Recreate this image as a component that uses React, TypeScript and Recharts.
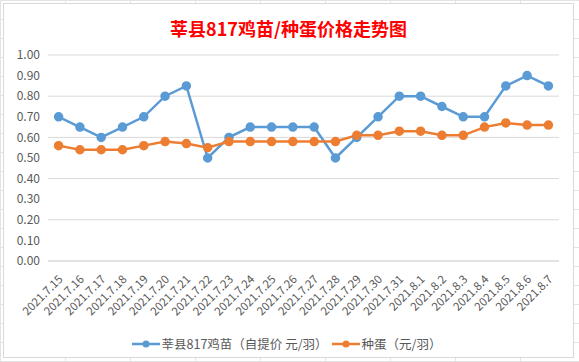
import React from 'react';
import { CartesianGrid, Legend, Line, LineChart, XAxis, YAxis } from 'recharts';

const dates = [
  '2021.7.15', '2021.7.16', '2021.7.17', '2021.7.18', '2021.7.19', '2021.7.20',
  '2021.7.21', '2021.7.22', '2021.7.23', '2021.7.24', '2021.7.25', '2021.7.26',
  '2021.7.27', '2021.7.28', '2021.7.29', '2021.7.30', '2021.7.31', '2021.8.1',
  '2021.8.2', '2021.8.3', '2021.8.4', '2021.8.5', '2021.8.6', '2021.8.7',
];

const chickPrice = [
  0.7, 0.65, 0.6, 0.65, 0.7, 0.8, 0.85, 0.5, 0.6, 0.65, 0.65, 0.65,
  0.65, 0.5, 0.6, 0.7, 0.8, 0.8, 0.75, 0.7, 0.7, 0.85, 0.9, 0.85,
];

const eggPrice = [
  0.56, 0.54, 0.54, 0.54, 0.56, 0.58, 0.57, 0.55, 0.58, 0.58, 0.58, 0.58,
  0.58, 0.58, 0.61, 0.61, 0.63, 0.63, 0.61, 0.61, 0.65, 0.67, 0.66, 0.66,
];

const yTicks = [0, 0.1, 0.2, 0.3, 0.4, 0.5, 0.6, 0.7, 0.8, 0.9, 1.0];

const chickName = '莘县817鸡苗（自提价 元/羽）';
const eggName = '种蛋（元/羽）';

const BLUE = '#5B9BD5';
const ORANGE = '#ED7D31';
const FONT = '"Noto Sans CJK SC", "Noto Sans", sans-serif';

const data = dates.map((d, i) => ({ date: d, chick: chickPrice[i], egg: eggPrice[i] }));

const DateTick = (props: any) => {
  const { x, y, payload } = props;
  const tx = x + 5;
  const ty = y + 11;
  return (
    <text
      x={tx}
      y={ty}
      transform={`rotate(-45, ${tx}, ${ty})`}
      textAnchor="end"
      fontSize={11.5}
      fill="#595959"
      fontFamily={FONT}
    >
      {payload.value}
    </text>
  );
};

const LegendBox = () => {
  const item = (color: string, label: string) => (
    <div style={{ display: 'flex', alignItems: 'center', marginRight: 4 }}>
      <svg width={28} height={10}>
        <line x1={0} y1={5} x2={28} y2={5} stroke={color} strokeWidth={2.5} />
        <circle cx={14} cy={5} r={3.5} fill={color} />
      </svg>
      <span style={{ marginLeft: 2 }}>{label}</span>
    </div>
  );
  return (
    <div
      style={{
        display: 'flex',
        justifyContent: 'center',
        fontSize: 12.5,
        color: '#595959',
        fontFamily: FONT,
      }}
    >
      {item(BLUE, chickName)}
      {item(ORANGE, eggName)}
    </div>
  );
};

export default function App() {
  return (
    <div
      style={{
        position: 'absolute',
        left: 0,
        top: 0,
        width: 579,
        height: 362,
        background: '#fff',
        backgroundImage:
          'repeating-linear-gradient(to right, #e3e3e3 0 1px, transparent 1px 65px), repeating-linear-gradient(to bottom, #e3e3e3 0 1px, transparent 1px 19px)',
      }}
    >
      <div
        style={{
          position: 'absolute',
          left: 3,
          top: 3,
          width: 571,
          height: 355,
          background: '#fff',
          border: '1px solid #d9d9d9',
          boxSizing: 'border-box',
        }}
      >
        <div
          style={{
            position: 'absolute',
            top: 11,
            width: '100%',
            textAlign: 'center',
            color: '#FF0000',
            fontWeight: 'bold',
            fontSize: 18,
            fontFamily: FONT,
          }}
        >
          莘县817鸡苗/种蛋价格走势图
        </div>
        <LineChart
          width={569}
          height={353}
          data={data}
          margin={{ top: 51, right: 14, left: 4, bottom: 34 }}
        >
          <CartesianGrid vertical={false} stroke="#D9D9D9" />
          <XAxis
            dataKey="date"
            interval={0}
            tickLine={false}
            axisLine={{ stroke: '#D9D9D9' }}
            height={62}
            padding={{ left: 10.6, right: 10.6 }}
            tick={<DateTick />}
          />
          <YAxis
            domain={[0, 1]}
            ticks={yTicks}
            width={40}
            axisLine={false}
            tickLine={false}
            tickFormatter={(v: number) => v.toFixed(2)}
            tick={{ fontSize: 12, fill: '#595959', fontFamily: FONT }}
          />
          <Legend
            verticalAlign="middle"
            layout="horizontal"
            wrapperStyle={{ top: 330, left: 0, width: 569 }}
            content={<LegendBox />}
          />
          <Line
            dataKey="chick"
            name={chickName}
            stroke={BLUE}
            strokeWidth={2.5}
            dot={{ r: 3.5, fill: BLUE, stroke: BLUE }}
            isAnimationActive={false}
          />
          <Line
            dataKey="egg"
            name={eggName}
            stroke={ORANGE}
            strokeWidth={2.5}
            dot={{ r: 3.5, fill: ORANGE, stroke: ORANGE }}
            isAnimationActive={false}
          />
        </LineChart>
      </div>
    </div>
  );
}
